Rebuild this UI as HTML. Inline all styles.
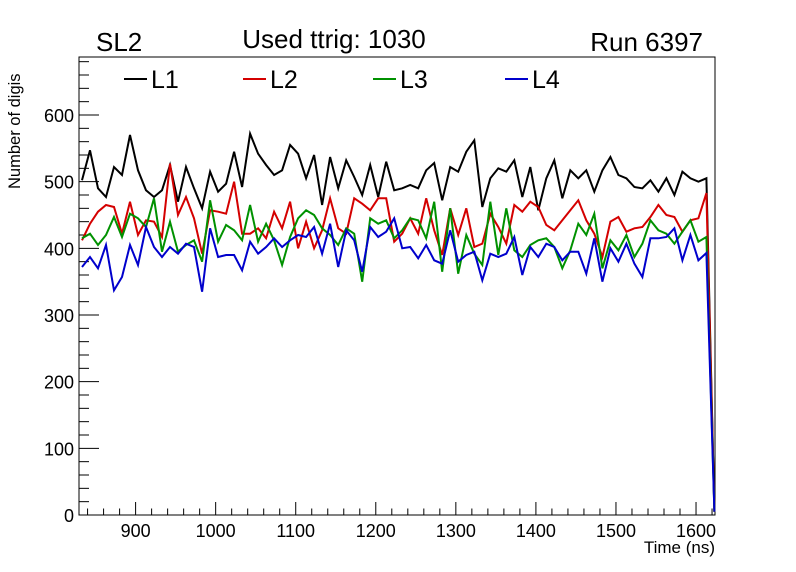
<!DOCTYPE html>
<html><head><meta charset="utf-8"><style>
body{margin:0;background:#fff;}
svg{display:block;font-family:"Liberation Sans",Arial,sans-serif;}
</style></head><body>
<svg id="chart" width="796" height="572">
<rect width="796" height="572" fill="#fff"/>
<text x="96" y="51" font-size="26">SL2</text>
<text x="334" y="48" font-size="26" text-anchor="middle">Used ttrig: 1030</text>
<text x="703" y="51" font-size="26" text-anchor="end">Run 6397</text>
<text transform="translate(20,189) rotate(-90)" font-size="16.5">Number of digis</text>
<text x="715" y="553" font-size="17" text-anchor="end">Time (ns)</text>
<g id="axes"></g>
<g id="series"></g>
<g id="legend"></g>
</svg>
<script>
const categoriesStart = 833;
const binWidth = 10;
const seriesNames = ["L1","L2","L3","L4"];
const seriesColors = ["#000000","#d40000","#009100","#0000cc"];
const l1Values = [502,547,490,477,522,510,570,517,487,477,487,525,470,522,490,460,515,485,497,545,492,572,542,525,510,517,555,542,505,540,465,537,490,532,507,480,525,477,530,487,
490,495,490,517,528,472,522,515,545,562,462,505,520,515,532,477,522,457,505,532,475,517,505,517,485,517,537,510,505,492,490,502,485,505,480,515,505,500,505,5];
const l2Values = [412,437,455,465,462,422,470,420,442,440,417,527,450,477,445,392,457,455,452,500,422,422,430,415,455,430,470,400,440,400,427,475,430,422,475,467,457,475,475,410,
422,445,422,475,427,390,460,420,460,402,407,452,432,407,465,455,470,462,435,427,442,457,472,442,422,387,440,447,425,430,432,447,465,450,447,425,442,445,483,5];
const l3Values = [415,422,405,420,447,417,452,445,432,475,395,440,395,405,412,380,472,410,435,427,412,465,410,437,412,375,417,445,457,450,430,420,405,430,422,350,445,437,442,415,
427,445,442,415,470,365,460,362,420,392,375,470,390,460,397,387,405,412,415,402,370,397,437,420,452,370,412,397,420,387,407,442,427,422,407,425,442,410,417,5];
const l4Values = [372,387,370,405,337,357,405,375,432,402,387,402,392,407,402,335,430,387,390,390,367,410,392,402,415,402,412,420,417,432,392,437,372,427,412,365,432,417,425,445,
400,402,385,405,382,377,427,380,390,395,352,392,387,392,417,360,402,387,407,402,382,395,395,362,415,350,400,380,407,377,357,415,415,417,430,382,420,382,393,5];
const xTickLabels = [900,1000,1100,1200,1300,1400,1500,1600];
const yTickLabels = [0,100,200,300,400,500,600];

const NS="http://www.w3.org/2000/svg";
const L=79,R=715,T=57,B=515;
const xMin=829.3,xMax=1623.7,yMin=0,yMax=687;
function xs(v){return L+(v-xMin)/(xMax-xMin)*(R-L);}
function ys(v){return B-(v-yMin)/(yMax-yMin)*(B-T);}
function mk(tag,attrs,parent){const e=document.createElementNS(NS,tag);for(const k in attrs)e.setAttribute(k,attrs[k]);parent.appendChild(e);return e;}
const axes=document.getElementById('axes');
const frame=mk('rect',{x:L,y:T,width:R-L,height:B-T,fill:'none',stroke:'#000','stroke-width':1},axes);


for(let v=840;v<=1620;v+=20){
  const major=v%100===0;
  const t=mk('line',{x1:xs(v),x2:xs(v),y1:B,y2:B-(major?13:6.5),stroke:'#000'},axes);
  
  
}
xTickLabels.forEach(v=>{
  const t=mk('text',{x:xs(v),y:B+22,'font-size':18,'text-anchor':'middle'},axes);t.textContent=v;
  
  
});
for(let v=0;v<=680;v+=20){
  const major=v%100===0;
  const t=mk('line',{x1:L,x2:L+(major?20:10),y1:ys(v),y2:ys(v),stroke:'#000'},axes);
  
  
}
yTickLabels.forEach(v=>{
  const t=mk('text',{x:74,y:ys(v)+7,'font-size':18,'text-anchor':'end'},axes);t.textContent=v;
  
  
});
const series=document.getElementById('series');
[l1Values,l2Values,l3Values,l4Values].forEach((arr,si)=>{
  const pts=arr.map((v,i)=>xs(categoriesStart+i*binWidth).toFixed(1)+','+ys(v).toFixed(1)).join(' ');
  const p=mk('polyline',{points:pts,fill:'none',stroke:seriesColors[si],'stroke-width':2,'stroke-linejoin':'miter'},series);
  
  
});
const legend=document.getElementById('legend');
const lx=[124,243,373,505];
seriesNames.forEach((n,i)=>{
  const g=mk('g',{},legend);
  
  
  mk('line',{x1:lx[i],x2:lx[i]+23,y1:79,y2:79,stroke:seriesColors[i],'stroke-width':2},g);
  const t=mk('text',{x:lx[i]+27,y:88,'font-size':25},g);t.textContent=n;
});
</script>
</body></html>
